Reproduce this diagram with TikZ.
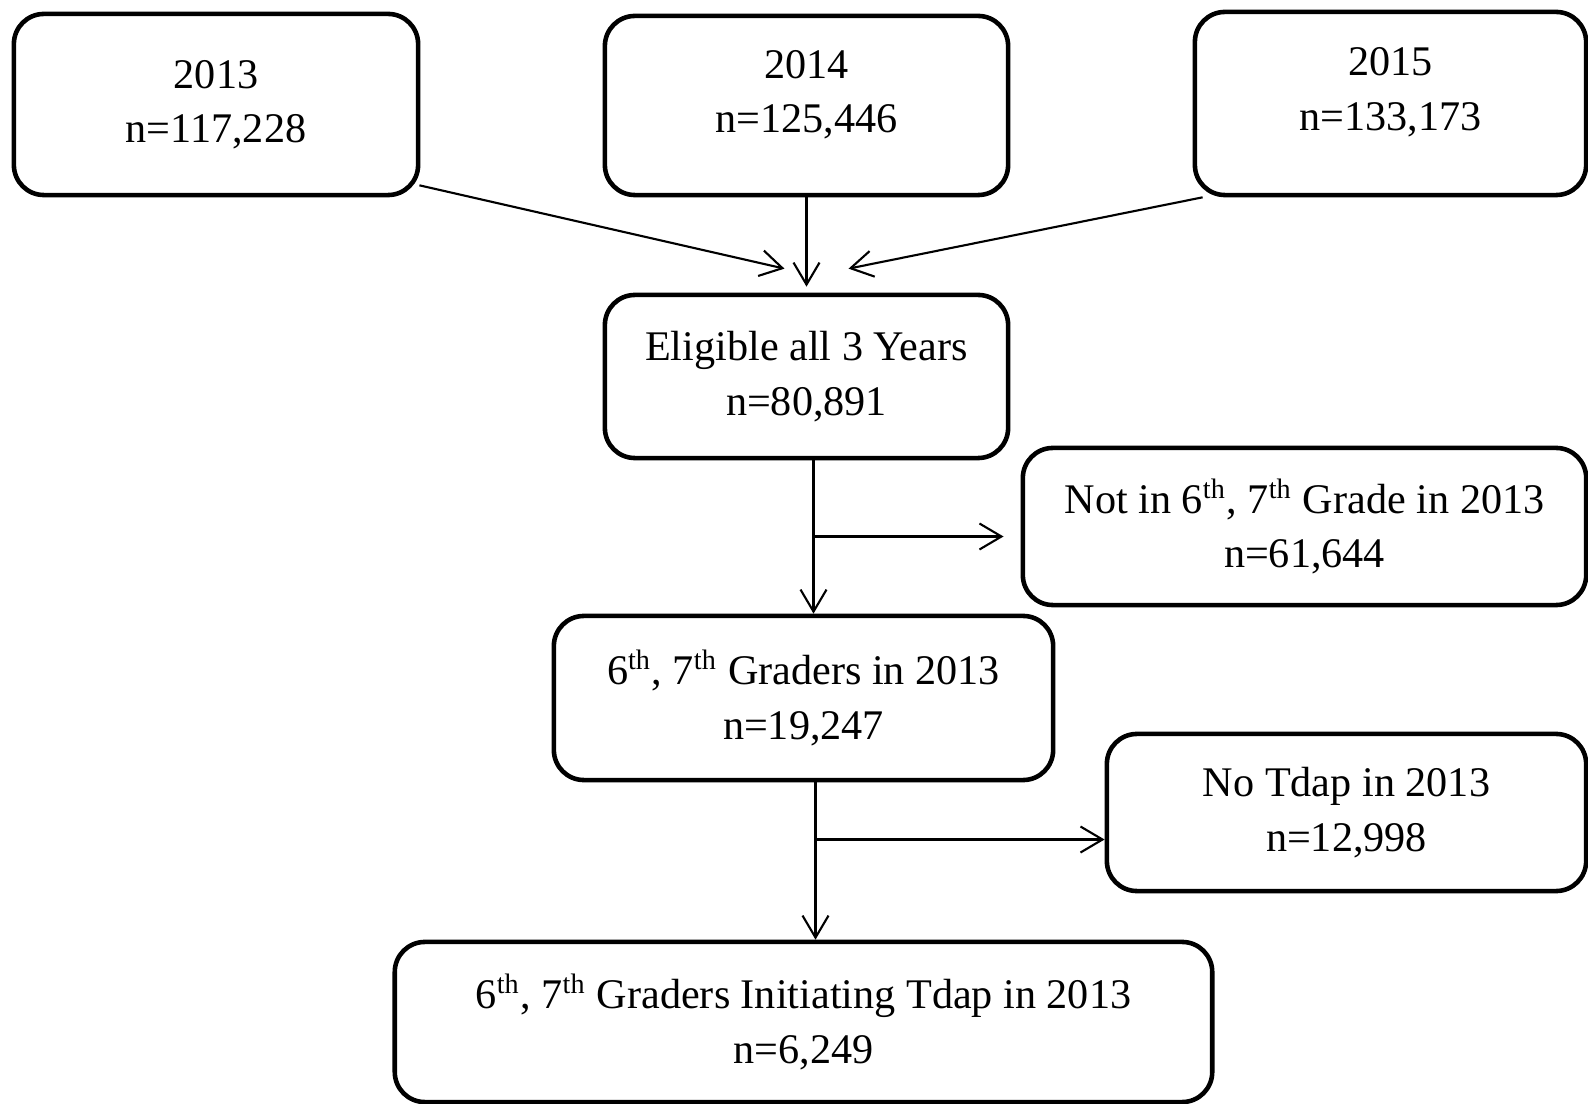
\documentclass[tikz,border=0pt]{standalone}
\usepackage{fontspec}
\setmainfont{Liberation Serif}
\usetikzlibrary{arrows.meta,positioning}

\begin{document}
\begin{tikzpicture}[
  x=0.01cm, y=-0.01cm,
  proc/.style={rectangle,rounded corners=0.3cm,draw,line width=1.3pt,align=center,inner sep=2pt,font=\fontsize{12}{15.5}\selectfont},
  arrow/.style={-{Straight Barb[length=2.2mm,width=2.6mm]},line width=0.6pt}
]
\useasboundingbox (0,0) rectangle (1588,1104);

\node[proc, minimum width=4.04cm, minimum height=1.81cm] (yr13) at (216,104.5) {2013\\n=117,228};
\node[proc, minimum width=4.03cm, minimum height=1.79cm] (yr14) at (806.5,105.5) {2014\\n=125,446\\[-0.26cm]};
\node[proc, minimum width=3.91cm, minimum height=1.83cm] (yr15) at (1390.5,103.5) {2015\\n=133,173\\[-0.25cm]};
\node[proc, minimum width=4.03cm, minimum height=1.63cm] (elig) at (806.5,376.5) {Eligible all 3 Years\\n=80,891};
\node[proc, minimum width=5.63cm, minimum height=1.57cm] (notg) at (1304.5,526.5) {Not in 6\textsuperscript{th}, 7\textsuperscript{th} Grade in 2013\\n=61,644};
\node[proc, minimum width=4.99cm, minimum height=1.64cm] (grad) at (803.5,698) {6\textsuperscript{th}, 7\textsuperscript{th} Graders in 2013\\n=19,247};
\node[proc, minimum width=4.79cm, minimum height=1.57cm] (notd) at (1346.5,812.5) {No Tdap in 2013\\n=12,998};
\node[proc, minimum width=8.17cm, minimum height=1.60cm] (init) at (803.5,1022) {6\textsuperscript{th}, 7\textsuperscript{th} Graders Initiating Tdap in 2013\\n=6,249};

\coordinate[above left=0.24cm and 0.22cm of elig.north] (inL);
\coordinate[above right=0.24cm and 0.42cm of elig.north] (inR);
\coordinate[xshift=0.07cm] (v1) at (elig.south);
\coordinate[xshift=0.12cm] (v2) at (grad.south);

\draw[arrow] ([shift={(-0.01cm,0.12cm)}]yr13.south east) -- (inL);
\draw[arrow] (yr14.south) -- ([yshift=0.06cm]elig.north);
\draw[arrow] ([xshift=0.1cm]yr15.south west) -- (inR);
\draw[arrow] (v1) -- (v1 |- grad.north);
\draw[arrow] ([yshift=-0.1cm]v1 |- notg.west) -- ([shift={(-0.17cm,-0.1cm)}]notg.west);
\draw[arrow] (v2) -- (v2 |- init.north);
\draw[arrow] ([yshift=-0.27cm]v2 |- notd.west) -- ([yshift=-0.27cm]notd.west);
\end{tikzpicture}
\end{document}
